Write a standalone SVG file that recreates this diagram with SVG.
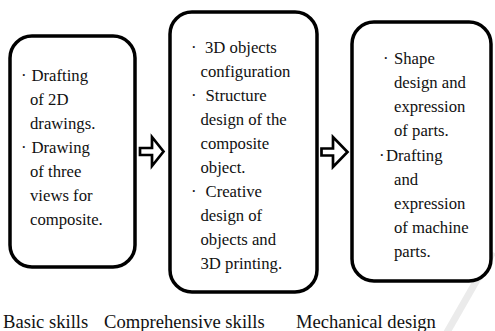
<svg xmlns="http://www.w3.org/2000/svg" width="495" height="331" viewBox="0 0 495 331">
  <style>
    .box { fill: #ffffff; stroke: #000000; stroke-width: 3.5; }
    .arrow { fill: #ffffff; stroke: #000000; stroke-width: 2.7; stroke-linejoin: miter; }
    .t { font-size: 16.7px; fill: #111111; }
    .label { font-size: 18.6px; fill: #111111; }
  </style>
  <rect width="495" height="331" fill="#ffffff"/>
  <!-- faint diagonal stripe, lower right -->
  <line x1="493" y1="252" x2="446" y2="334" stroke="#ebebeb" stroke-width="7"/>

  <g font-family="Liberation Serif, Tinos, Times New Roman, DejaVu Serif, serif">
    <g id="basic-skills">
      <rect class="box" x="10" y="36" width="125" height="231" rx="22" ry="22"/>
      <text class="t" x="21" y="81">·</text>
      <text class="t" x="31.5" y="81">Drafting</text>
      <text class="t" x="30" y="105">of 2D</text>
      <text class="t" x="30" y="129">drawings.</text>
      <text class="t" x="21" y="153">·</text>
      <text class="t" x="31.5" y="153">Drawing</text>
      <text class="t" x="30" y="177">of three</text>
      <text class="t" x="30" y="201">views for</text>
      <text class="t" x="30" y="225">composite.</text>
    </g>

    <g id="comprehensive-skills">
      <rect class="box" x="170" y="12" width="147" height="280" rx="22" ry="22"/>
      <text class="t" x="191" y="53">·</text>
      <text class="t" x="205" y="53">3D objects</text>
      <text class="t" x="200.5" y="77">configuration</text>
      <text class="t" x="191" y="101">·</text>
      <text class="t" x="205.5" y="101">Structure</text>
      <text class="t" x="200.5" y="125">design of the</text>
      <text class="t" x="200.5" y="149">composite</text>
      <text class="t" x="200.5" y="173">object.</text>
      <text class="t" x="191" y="197">·</text>
      <text class="t" x="205.5" y="197">Creative</text>
      <text class="t" x="200.5" y="221">design of</text>
      <text class="t" x="200.5" y="245">objects and</text>
      <text class="t" x="200.5" y="269">3D printing.</text>
    </g>

    <g id="mechanical-design">
      <rect class="box" x="352" y="22" width="139" height="259" rx="22" ry="22"/>
      <text class="t" x="383" y="64">·</text>
      <text class="t" x="394" y="64">Shape</text>
      <text class="t" x="394" y="88">design and</text>
      <text class="t" x="394" y="112">expression</text>
      <text class="t" x="394" y="136">of parts.</text>
      <text class="t" x="379" y="161">·</text>
      <text class="t" x="386" y="161">Drafting</text>
      <text class="t" x="394" y="185">and</text>
      <text class="t" x="394" y="209">expression</text>
      <text class="t" x="394" y="233">of machine</text>
      <text class="t" x="394" y="257">parts.</text>
    </g>

    <g id="labels">
      <text class="label" x="3" y="328">Basic skills</text>
      <text class="label" x="104" y="328">Comprehensive skills</text>
      <text class="label" x="296" y="328">Mechanical design</text>
    </g>
  </g>

  <g id="connectors">
    <polygon class="arrow" points="140,148 152,148 152,137 163.5,151.5 152,166 152,155 140,155"/>
    <polygon class="arrow" points="321.5,148.5 333,148.5 333,137 347.5,152 333,167 333,155.5 321.5,155.5"/>
  </g>
</svg>
